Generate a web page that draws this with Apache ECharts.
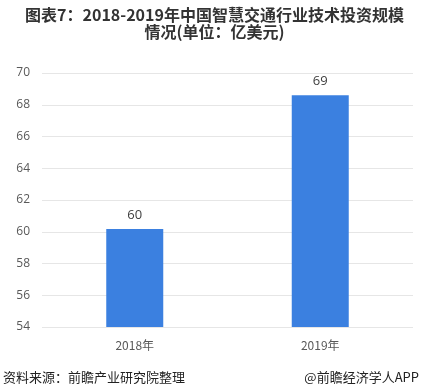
<!DOCTYPE html>
<html><head><meta charset="utf-8">
<script src="https://cdn.jsdelivr.net/npm/echarts@6/dist/echarts.min.js"></script>
<style>html,body{margin:0;padding:0;background:#fff}#c{width:429px;height:392px}</style>
</head><body><div id="c"></div>
<script>
var categories = ['2018年', '2019年'];
var values = [60.17, 68.6];
var labels = ['60', '69'];
var yTicks = [54, 56, 58, 60, 62, 64, 66, 68, 70];

var chart = echarts.init(document.getElementById('c'), null, {renderer: 'canvas'});
chart.setOption({
  animation: false,
  backgroundColor: '#fff',
  title: {
    text: '图表7：2018-2019年中国智慧交通行业技术投资规模\n情况(单位：亿美元)',
    left: 'center', top: 1,
    textStyle: {fontSize: 16, fontWeight: 'bold', color: '#333', lineHeight: 17,
      fontFamily: '"Noto Sans CJK SC", "Liberation Sans", sans-serif'}
  },
  graphic: [
    {type: 'text', left: 3, top: 371, style: {text: '资料来源：前瞻产业研究院整理', fontSize: 13, fill: '#222',
      fontFamily: '"Noto Sans CJK SC", sans-serif'}},
    {type: 'text', right: 10, top: 371, style: {text: '@前瞻经济学人APP', fontSize: 13, fill: '#222',
      fontFamily: '"Noto Sans CJK SC", sans-serif'}}
  ],
  grid: {left: 42, right: 16, top: 73, bottom: 65},
  xAxis: {
    type: 'category', data: categories,
    axisLine: {show: false}, axisTick: {show: false},
    axisLabel: {color: '#595959', fontSize: 12, margin: 12,
      fontFamily: '"Noto Sans CJK SC", sans-serif'}
  },
  yAxis: {
    type: 'value', min: yTicks[0], max: yTicks[yTicks.length - 1], interval: 2,
    axisLine: {show: false}, axisTick: {show: false},
    axisLabel: {color: '#595959', fontSize: 12, margin: 12, fontFamily: '"Open Sans", sans-serif'},
    splitLine: {lineStyle: {color: '#e6e6e6', width: 1}}
  },
  series: [{
    type: 'bar', data: values, barWidth: 57,
    itemStyle: {color: '#3b80e0'},
    label: {show: true, position: 'top', distance: 7, color: '#404040', fontSize: 13,
      fontFamily: '"Open Sans", sans-serif',
      formatter: function (p) { return labels[p.dataIndex]; }}
  }]
});
</script></body></html>
